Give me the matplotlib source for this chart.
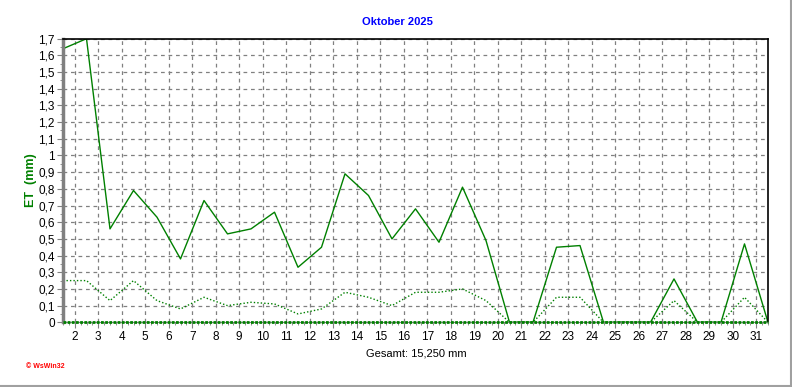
import matplotlib.pyplot as plt
import numpy as np
from matplotlib.lines import Line2D
from matplotlib.ticker import FuncFormatter, MultipleLocator

plt.rcParams['font.family'] = ['Liberation Sans', 'DejaVu Sans']

# Tageswerte Oktober 2025 (Tag 1..31)
days = np.arange(1, 32)
et_max = [1.64, 1.70, 0.56, 0.79, 0.63, 0.38, 0.73, 0.53, 0.56, 0.66,
          0.33, 0.45, 0.89, 0.76, 0.50, 0.68, 0.48, 0.81, 0.49, 0.00,
          0.00, 0.45, 0.46, 0.00, 0.00, 0.00, 0.26, 0.00, 0.00, 0.47, 0.00]
et_min = [0.25, 0.25, 0.13, 0.25, 0.13, 0.08, 0.15, 0.10, 0.12, 0.11,
          0.05, 0.08, 0.18, 0.15, 0.10, 0.18, 0.18, 0.20, 0.13, 0.00,
          0.00, 0.15, 0.15, 0.00, 0.00, 0.00, 0.13, 0.00, 0.00, 0.15, 0.00]
x_labels = [str(d) for d in range(2, 32)]
title = 'Oktober 2025'
total = 'Gesamt: 15,250 mm'

green = '#008000'
fig = plt.figure(figsize=(7.92, 3.87), dpi=100)
ax = fig.add_axes([63/792, 1 - 322.3/387, 705/792, 283.6/387])

# Werte in der Mitte des Tages
xpos = days + 0.5
ax.plot(xpos, et_max, color=green, lw=1.0)
ax.plot(xpos, et_min, color=green, lw=1.0, ls=(0, (1, 1.5)))
ax.axhline(0, color=green, lw=2.0, ls=(0, (1, 0.5)), zorder=5, clip_on=False)

ax.set_xlim(1.5, 31.5)
ax.set_ylim(0, 1.7)
ax.set_xticks(range(2, 32))
ax.set_xticklabels(x_labels)
ax.xaxis.set_minor_locator(MultipleLocator(0.25))
ax.yaxis.set_major_locator(MultipleLocator(0.1))
ax.yaxis.set_minor_locator(MultipleLocator(0.05))

def fmt(v, pos):
    s = ('%.1f' % v).replace('.', ',')
    return s[:-2] if s.endswith(',0') else s

ax.yaxis.set_major_formatter(FuncFormatter(fmt))
ax.grid(True, which='major', color='#808080', ls=(0, (3, 3)), lw=0.9)
ax.tick_params(axis='both', which='major', labelsize=8.5, color='#808080', length=4)
ax.tick_params(axis='both', which='minor', color='#808080', length=2)
ax.tick_params(axis='x', pad=2)
ax.tick_params(axis='y', pad=2)

for s in ['top', 'right']:
    ax.spines[s].set_color('black')
    ax.spines[s].set_linewidth(1.2)
ax.spines['left'].set_color('#808080')
ax.spines['left'].set_linewidth(2.5)
ax.spines['bottom'].set_color('#808080')

ax.set_ylabel('ET  (mm)', color=green, fontweight='bold', fontsize=9)
ax.yaxis.set_label_coords(-26/705, 0.5)
fig.text(397.5/792, 1 - 22/387, title, color='#0000ff', fontweight='bold',
         fontsize=8, ha='center', va='center')
fig.text(416/792, 1 - 353/387, total, fontsize=8, ha='center', va='center')
fig.text(26/792, 1 - 367/387, '\u00a9 WsWin32', color='red', fontweight='bold',
         fontsize=5, ha='left', va='center')

# grauer Rahmen rechts und unten
fig.add_artist(Line2D([0, 1], [1.5/387, 1.5/387], color='#a0a0a0', lw=1.5))
fig.add_artist(Line2D([1 - 1.5/792, 1 - 1.5/792], [0, 1], color='#a0a0a0', lw=1.5))

fig.savefig('out.png', dpi=100)
